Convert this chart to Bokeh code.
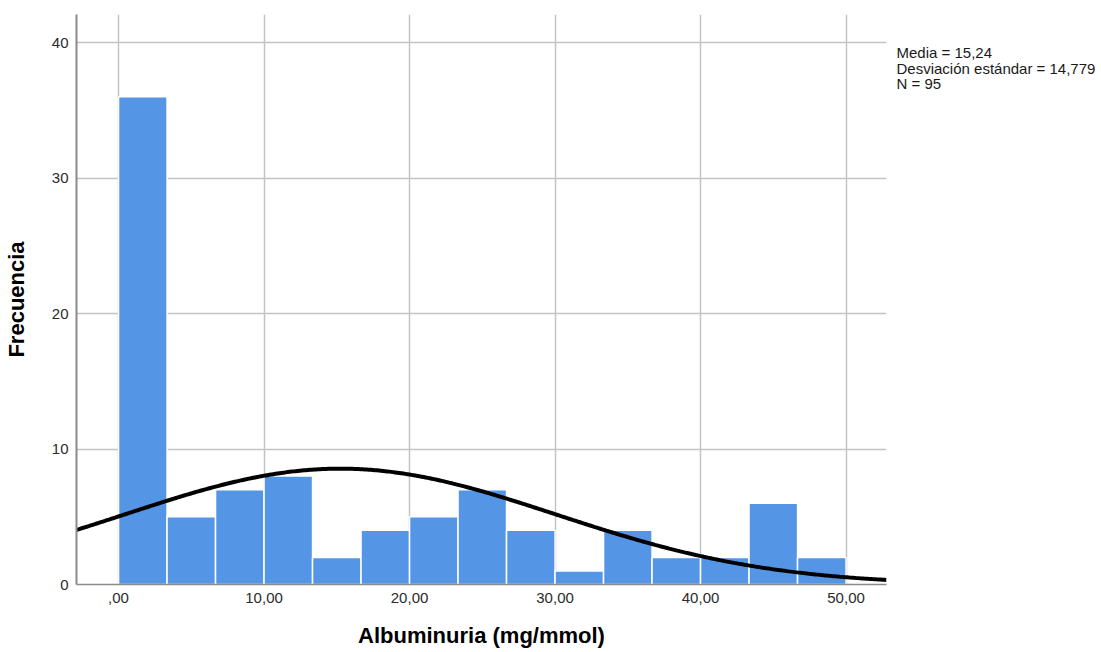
import numpy as np
from bokeh.plotting import figure
from bokeh.models import Range1d, FixedTicker, LinearAxis
from bokeh.embed import file_html
from bokeh.resources import INLINE

# ---- data ----
bin_start = 0.0
bin_width = 10.0 / 3.0
counts = [36, 5, 7, 8, 2, 4, 5, 7, 4, 1, 4, 2, 2, 6, 2]
mean_val = 15.24
sd_val = 14.779
n_val = 95
x_ticks = [0, 10, 20, 30, 40, 50]
x_tick_labels = [",00", "10,00", "20,00", "30,00", "40,00", "50,00"]
y_ticks = [0, 10, 20, 30, 40]
stats_lines = ["Media = 15,24", "Desviación estándar = 14,779", "N = 95"]

X_MIN, X_MAX = -2.89, 52.78
Y_MIN, Y_MAX = 0, 42.07

FONT = "Liberation Sans"
BAR = "#5595e5"

p = figure(width=1101, height=652, output_backend="svg", toolbar_location=None,
           x_range=Range1d(X_MIN, X_MAX), y_range=Range1d(Y_MIN, Y_MAX),
           min_border_left=76, min_border_right=215, min_border_top=14,
           min_border_bottom=68)
p.outline_line_color = None
p.background_fill_color = "white"
p.border_fill_color = "white"

lefts = [bin_start + i * bin_width for i in range(len(counts))]
rights = [l + bin_width for l in lefts]
p.quad(left=lefts, right=rights, bottom=0, top=counts,
       fill_color=BAR, line_color="white", line_width=1.5)

xs = np.linspace(X_MIN, X_MAX, 400)
ys = n_val * bin_width * np.exp(-0.5 * ((xs - mean_val) / sd_val) ** 2) / (sd_val * np.sqrt(2 * np.pi))
p.line(xs, ys, line_color="black", line_width=4)

# axes
p.xaxis.ticker = FixedTicker(ticks=x_ticks)
p.xaxis.major_label_overrides = {t: s for t, s in zip(x_ticks, x_tick_labels)}
p.yaxis.ticker = FixedTicker(ticks=y_ticks)
for ax in (p.xaxis, p.yaxis):
    ax.major_tick_out = 0
    ax.major_tick_in = 0
    ax.minor_tick_out = 0
    ax.minor_tick_in = 0
    ax.major_label_text_font = FONT
    ax.major_label_text_font_size = "15px"
    ax.major_label_text_color = "#2b2b2b"
    ax.major_label_standoff = 8
    ax.axis_label_text_font = FONT
    ax.axis_label_text_font_size = "22px"
    ax.axis_label_text_font_style = "bold"
    ax.axis_label_text_color = "black"
p.xaxis.axis_label_standoff = 17
p.yaxis.axis_label_standoff = 20
p.xaxis.axis_label = "Albuminuria (mg/mmol)"
p.yaxis.axis_label = "Frecuencia"
p.yaxis.axis_line_color = "#8a8a8a"
p.yaxis.axis_line_width = 2
p.xaxis.axis_line_color = "#8a8a8a"
p.xaxis.axis_line_width = 1.5

p.xgrid.grid_line_color = "#c4c4c4"
p.ygrid.grid_line_color = "#c4c4c4"
p.xgrid.grid_line_width = 1.5
p.ygrid.grid_line_width = 1.5

# stats text as labels of an invisible right-hand axis (pixel range = frame height)
p.extra_y_ranges = {"stats": Range1d(0, 570)}
stats_pos = [532, 516, 501]
stats_axis = LinearAxis(y_range_name="stats", ticker=FixedTicker(ticks=stats_pos),
                        major_label_overrides={t: s for t, s in zip(stats_pos, stats_lines)},
                        axis_line_color=None, major_tick_out=0, major_tick_in=0,
                        minor_tick_out=0, minor_tick_in=0, major_label_standoff=10,
                        major_label_text_font=FONT, major_label_text_font_size="15px",
                        major_label_text_color="#1a1a1a")
p.add_layout(stats_axis, "right")

open("out.html", "w").write(file_html(p, INLINE))
